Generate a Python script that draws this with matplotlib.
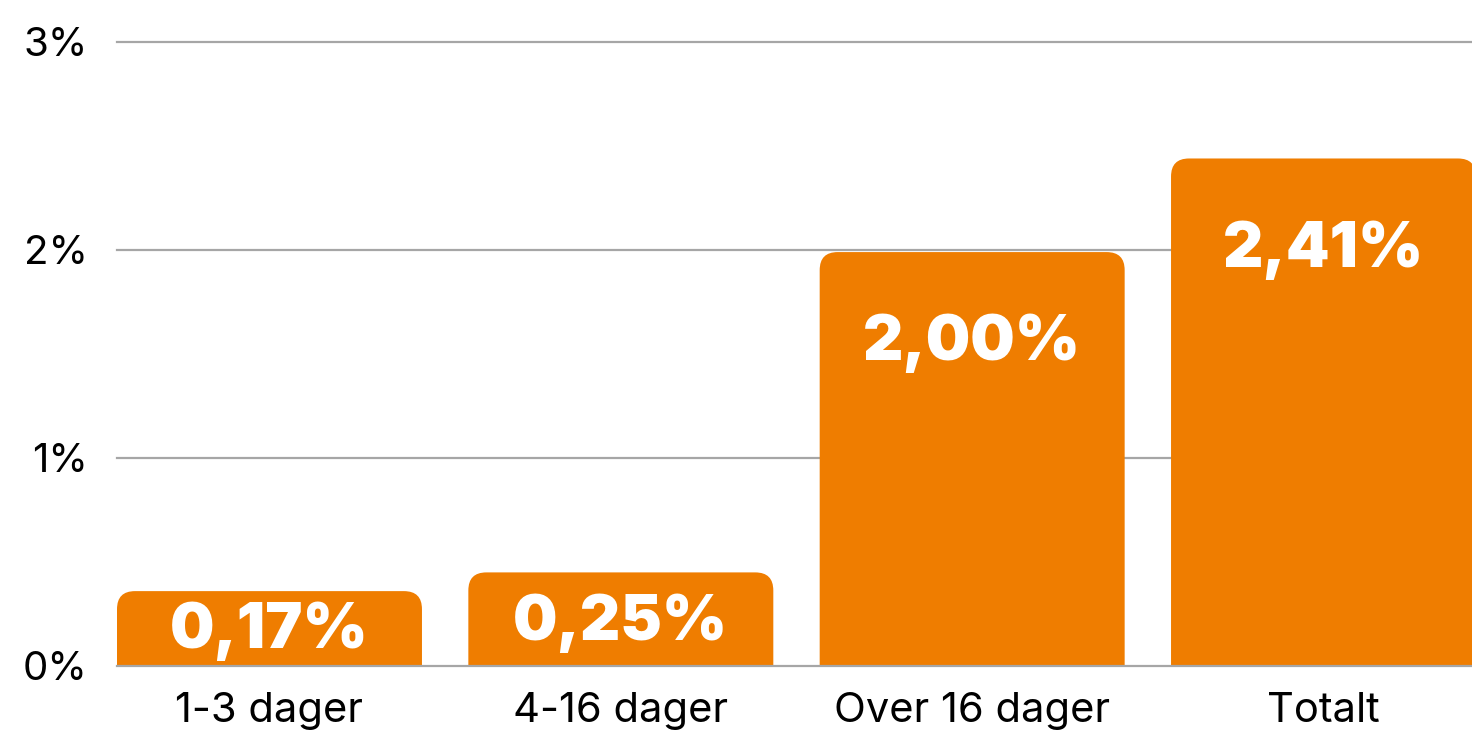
import matplotlib.pyplot as plt
from matplotlib.patches import FancyBboxPatch

# ----------------- Data -----------------
categories = ['1-3 dager', '4-16 dager', 'Over 16 dager', 'Totalt']
bar_heights = [0.36, 0.45, 1.99, 2.44]      # drawn height of each bar (%)
value_labels = ['0,17%', '0,25%', '2,00%', '2,41%']
y_ticks = [0, 1, 2, 3]
y_tick_labels = ['0%', '1%', '2%', '3%']

ORANGE = '#EF7D00'
GRID = '#A6A6A6'

plt.rcParams['font.family'] = ['Inter', 'DejaVu Sans']

fig = plt.figure(figsize=(14.72, 7.30), dpi=100)
W, H = 1472, 730
ax = fig.add_axes([117 / W, 1 - 666 / H, (1476 - 117) / W, (666 - 42) / H])

bar_w = 0.868
bars = ax.bar(range(len(categories)), bar_heights, width=bar_w, color='none')

ax.set_xlim(-bar_w / 2, len(categories) - 1 + bar_w / 2)
ax.set_ylim(0, 3)

# rounded top corners: replace each rectangle with a rounded box that
# extends below zero so the bottom corners get clipped away
px_x = ax.get_position().width * W / (ax.get_xlim()[1] - ax.get_xlim()[0])
px_y = ax.get_position().height * H / 3
aspect = px_x / px_y
r = 18 / px_x
for rect in bars:
    x0, w, h = rect.get_x(), rect.get_width(), rect.get_height()
    p = FancyBboxPatch((x0, -0.3), w, h + 0.3,
                       boxstyle=f'round,pad=0,rounding_size={r}',
                       mutation_aspect=aspect, facecolor=ORANGE,
                       edgecolor='none', zorder=3)
    ax.add_patch(p)
    rect.remove()

# value labels
for i, (h, lab) in enumerate(zip(bar_heights, value_labels)):
    y = h - 0.44 if h > 1 else h * 0.46
    ax.text(i, y, lab, ha='center', va='center', color='white',
            fontsize=45, fontweight='black', zorder=4)

# grid
for t in y_ticks:
    ax.axhline(t, color=GRID, lw=1.6, zorder=1 if t else 5, clip_on=False)

ax.set_yticks(y_ticks)
ax.set_yticklabels(y_tick_labels, fontsize=29)
ax.set_xticks(range(len(categories)))
ax.set_xticklabels(categories, fontsize=30)
ax.tick_params(axis='y', length=0, pad=21)
ax.tick_params(axis='x', length=0, pad=19)
for s in ax.spines.values():
    s.set_visible(False)

fig.savefig('out.png', dpi=100)
